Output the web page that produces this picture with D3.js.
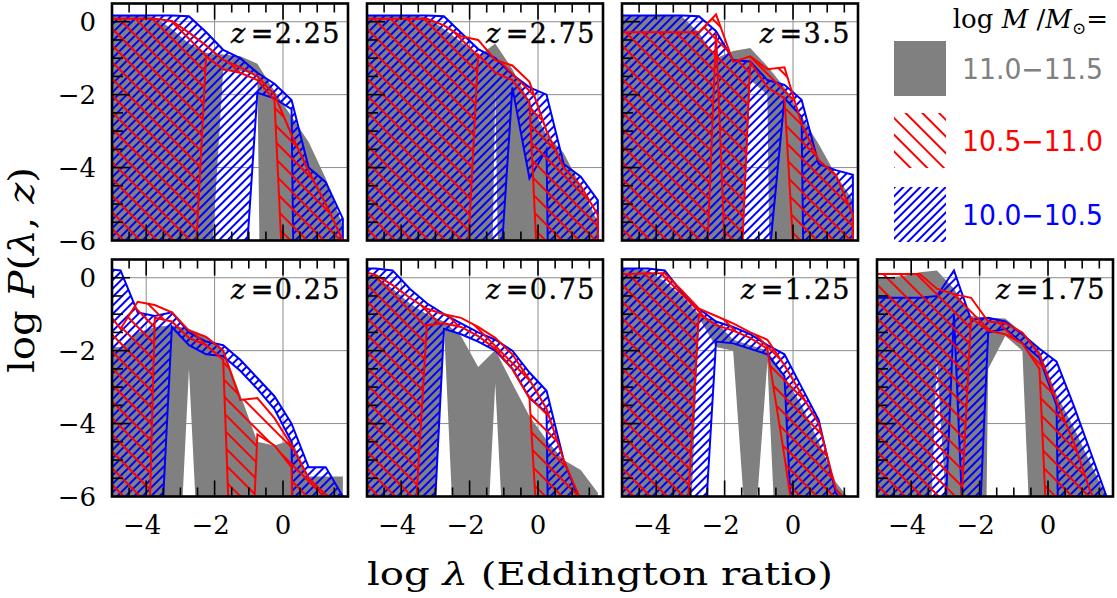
<!DOCTYPE html>
<html>
<head>
<meta charset="utf-8">
<script src="https://cdn.jsdelivr.net/npm/d3@7"></script>
<style>
  body { margin: 0; background: #fff; }
  svg { display: block; }
  text { font-family: 'DejaVu Serif', serif; fill: #000; }
</style>
</head>
<body>
<svg id="chart" width="1117" height="598"></svg>
<script>
// bin centres in log lambda
const xs = [-5.25, -4.75, -4.25, -3.75, -3.25, -2.75, -2.25, -1.75, -1.25, -0.75, -0.25, 0.25, 0.75, 1.25, 1.75]

// upper / lower edge of log P for each mass bin, big negatives = empty bin (log 0)
// z = 2.25
const gray_hi_225 = [0.17, 0.17, 0.17, 0.12, -0.2, -0.6, -0.85, -0.9, -0.95, -1.15, -1.9, -2.6, -3.3, -4.3, -5.6]
const gray_lo_225 = [-40, -40, -40, -40, -40, -40, -9, -1.35, -1.35, -1.45, -40, -40, -40, -40, -40]
const red_hi_225 = [0.08, 0.08, 0.08, 0.08, 0.02, -0.3, -0.65, -1.05, -1.25, -1.5, -2.0, -3.1, -4.1, -5.0, -6.0]
const red_lo_225 = [-40, -40, -40, -40, -40, -10, -0.95, -1.3, -1.4, -1.6, -2.15, -12, -40, -40, -40]
const blue_hi_225 = [0.17, 0.17, 0.17, 0.17, 0.17, 0.15, -0.28, -0.77, -1.0, -1.4, -1.7, -2.15, -4.0, -4.4, -5.4]
const blue_lo_225 = [-40, -40, -40, -40, -40, -40, -40, -40, -9, -1.95, -2.1, -2.4, -40, -40, -40]

// z = 2.75
const gray_hi_275 = [0.17, 0.17, 0.17, 0.17, 0.12, -0.2, -0.55, -0.95, -0.6, -1.3, -2.2, -3.1, -3.6, -4.5, -5.5]
const gray_lo_275 = [-40, -40, -40, -40, -40, -40, -40, -30, -1.9, -30, -40, -40, -40, -40, -40]
const red_hi_275 = [0.08, 0.08, 0.08, 0.08, 0.08, -0.1, -0.4, -0.5, -1.05, -1.2, -1.65, -3.0, -4.0, -4.5, -5.3]
const red_lo_275 = [-40, -40, -40, -40, -40, -40, -10, -0.9, -1.4, -1.6, -2.2, -12, -40, -40, -40]
const blue_hi_275 = [0.17, 0.17, 0.17, 0.17, 0.17, 0.15, -0.3, -0.75, -1.0, -1.45, -1.8, -2.0, -3.9, -4.25, -4.9]
const blue_lo_275 = [-40, -40, -40, -40, -40, -40, -40, -40, -9, -1.8, -4.3, -3.5, -40, -40, -40]

// z = 3.5
const gray_hi_35 = [0.17, 0.17, 0.17, 0.17, 0.15, -0.3, -1.0, -0.8, -0.72, -1.22, -1.8, -2.6, -3.35, -4.2, -4.9]
const gray_lo_35 = [-40, -40, -40, -40, -40, -40, -40, -12, -1.6, -2.0, -40, -40, -40, -40, -40]
const red_hi_35 = [-0.29, -0.29, -0.29, -0.29, -0.29, -0.29, 0.2, -1.1, -0.95, -1.3, -1.25, -2.8, -3.8, -4.2, -5.3]
const red_lo_35 = [-40, -40, -40, -40, -40, -12, -0.3, -12, -1.1, -1.8, -2.1, -10, -40, -40, -40]
const blue_hi_35 = [0.17, 0.17, 0.17, 0.17, 0.17, 0.15, -0.26, -1.05, -1.09, -1.6, -1.73, -2.14, -3.9, -4.07, -4.2]
const blue_lo_35 = [-40, -40, -40, -40, -40, -40, -40, -40, -40, -7, -2.1, -2.6, -40, -40, -40]

// z = 0.25
const gray_hi_025 = [-1.9, -1.9, -1.5, -1.35, -1.3, -1.4, -1.6, -1.95, -3.2, -4.5, -4.6, -4.45, -5.45, -5.45, -5.45]
const gray_lo_025 = [-40, -40, -40, -40, -12, -2.5, -12, -40, -40, -40, -40, -40, -40, -40, -40]
const red_hi_025 = [-0.8, -1.4, -0.66, -0.75, -0.95, -1.45, -1.62, -2.0, -3.35, -3.3, -3.85, -4.6, -5.5, -5.95, -6.2]
const red_lo_025 = [-40, -40, -19, -1.1, -1.2, -1.65, -1.85, -2.25, -15, -4.3, -4.6, -5.2, -40, -40, -40]
const blue_hi_025 = [0.25, 0.2, -0.95, -1.05, -0.95, -1.5, -1.75, -1.85, -2.25, -2.75, -3.25, -4.0, -5.2, -5.2, -6.0]
const blue_lo_025 = [-40, -40, -40, -10.6, -1.35, -1.85, -2.1, -2.15, -2.55, -3.05, -3.6, -4.5, -40, -40, -40]

// z = 0.75
const gray_hi_075 = [0.15, 0.05, -0.3, -0.7, -1.0, -1.2, -1.6, -2.45, -1.98, -2.9, -3.8, -4.45, -5.0, -5.27, -5.9]
const gray_lo_075 = [-40, -40, -40, -40, -10.7, -1.3, -11.5, -12, -2.9, -12, -40, -40, -40, -40, -40]
const red_hi_075 = [0.2, 0.08, -0.2, -0.55, -0.85, -1.0, -1.1, -1.35, -1.65, -2.1, -2.8, -3.6, -5.0, -6.1, -6.5]
const red_lo_075 = [-40, -40, -40, -9.1, -1.3, -1.25, -1.35, -1.6, -1.95, -2.5, -3.3, -11.2, -40, -40, -40]
const blue_hi_075 = [0.25, 0.25, 0.2, -0.3, -0.7, -1.0, -1.25, -1.5, -1.7, -2.0, -2.6, -3.1, -5.0, -6.2, -7.0]
const blue_lo_075 = [-40, -40, -40, -40, -10.6, -1.4, -1.55, -1.75, -2.0, -2.5, -3.3, -3.7, -40, -40, -40]

// z = 1.25
const gray_hi_125 = [0.25, 0.25, 0.2, -0.1, -0.5, -1.0, -1.2, -1.7, -1.85, -2.0, -2.7, -3.5, -4.5, -5.6, -6.2]
const gray_lo_125 = [-40, -40, -40, -40, -12.8, -1.1, -1.9, -2.0, -8.67, -2.3, -12.6, -40, -40, -40, -40]
const red_hi_125 = [0.1, 0.1, 0.12, 0.12, -0.35, -0.85, -1.05, -1.25, -1.5, -1.7, -2.4, -3.2, -4.0, -5.8, -6.3]
const red_lo_125 = [-40, -40, -40, -40, -9.1, -1.0, -1.3, -1.45, -1.65, -1.95, -4.9, -8.1, -40, -40, -40]
const blue_hi_125 = [0.25, 0.25, 0.25, 0.2, -0.4, -0.85, -1.2, -1.35, -1.55, -1.85, -2.1, -3.0, -3.9, -5.9, -6.5]
const blue_lo_125 = [-40, -40, -40, -40, -40, -9.6, -1.75, -1.8, -1.95, -2.1, -2.7, -12.4, -40, -40, -40]

// z = 1.75
const gray_hi_175 = [0.0, 0.0, 0.05, 0.15, 0.2, -0.3, -1.05, -1.1, -1.12, -1.5, -2.0, -3.2, -4.1, -5.1, -6.1]
const gray_lo_175 = [-40, -40, -40, -14.9, -2.2, -9.8, -40, -2.5, -1.6, -2.0, -13.1, -40, -40, -40, -40]
const red_hi_175 = [0.1, 0.1, 0.1, 0.1, -0.3, -0.45, -0.55, -1.2, -1.25, -1.5, -2.1, -3.4, -4.5, -5.9, -6.5]
const red_lo_175 = [-40, -40, -40, -40, -40, -10.2, -1.1, -1.45, -1.55, -1.8, -2.5, -12.8, -40, -40, -40]
const blue_hi_175 = [-0.55, -0.55, -0.55, -0.55, -0.5, 0.2, -1.15, -1.1, -1.2, -1.55, -1.95, -2.3, -3.5, -4.8, -6.1]
const blue_lo_175 = [-40, -40, -40, -40, -12, -1.0, -12, -1.5, -1.4, -1.8, -2.2, -3.5, -40, -40, -40]

const xTicks = [-4, -2, 0]
const yTicks = [0, -2, -4, -6]
const legendLabels = ['11.0\u221211.5', '10.5\u221211.0', '10.0\u221210.5']

const panels = [
  { z: '2.25', col: 0, row: 0, gray: [gray_hi_225, gray_lo_225], red: [red_hi_225, red_lo_225], blue: [blue_hi_225, blue_lo_225] },
  { z: '2.75', col: 1, row: 0, gray: [gray_hi_275, gray_lo_275], red: [red_hi_275, red_lo_275], blue: [blue_hi_275, blue_lo_275] },
  { z: '3.5', col: 2, row: 0, gray: [gray_hi_35, gray_lo_35], red: [red_hi_35, red_lo_35], blue: [blue_hi_35, blue_lo_35] },
  { z: '0.25', col: 0, row: 1, gray: [gray_hi_025, gray_lo_025], red: [red_hi_025, red_lo_025], blue: [blue_hi_025, blue_lo_025] },
  { z: '0.75', col: 1, row: 1, gray: [gray_hi_075, gray_lo_075], red: [red_hi_075, red_lo_075], blue: [blue_hi_075, blue_lo_075] },
  { z: '1.25', col: 2, row: 1, gray: [gray_hi_125, gray_lo_125], red: [red_hi_125, red_lo_125], blue: [blue_hi_125, blue_lo_125] },
  { z: '1.75', col: 3, row: 1, gray: [gray_hi_175, gray_lo_175], red: [red_hi_175, red_lo_175], blue: [blue_hi_175, blue_lo_175] }
]

const GRAY = '#808080'
const RED = '#ff0000'
const BLUE = '#0000ff'

const W = 236
const H = 237
const colX = [112, 367, 622, 877]
const rowY = [3.5, 259.5]

const svg = d3.select('#chart')

// hatch patterns
let defs = svg.append('defs')
defs.append('pattern')
    .attr('id', 'hatch-red')
    .attr('patternUnits', 'userSpaceOnUse')
    .attr('width', 11.8).attr('height', 11.8)
    .attr('patternTransform', 'rotate(-45)')
  .append('line')
    .attr('x1', 5.9).attr('x2', 5.9).attr('y1', -1).attr('y2', 13)
    .attr('stroke', RED).attr('stroke-width', 2)

defs.append('pattern')
    .attr('id', 'hatch-blue')
    .attr('patternUnits', 'userSpaceOnUse')
    .attr('width', 6).attr('height', 6)
    .attr('patternTransform', 'rotate(45)')
  .append('line')
    .attr('x1', 3).attr('x2', 3).attr('y1', -1).attr('y2', 7)
    .attr('stroke', BLUE).attr('stroke-width', 2)

const x = d3.scaleLinear().domain([-5, 1.9]).range([0, W])
const y = d3.scaleLinear().domain([-6, 0.5]).range([H, 0])

const area = d3.area()
    .x(d => x(d.x))
    .y0(d => y(Math.max(d.lo, -60)))
    .y1(d => y(d.hi))

panels.forEach((p, i) => {
  let g = svg.append('g')
      .attr('transform', `translate(${colX[p.col]},${rowY[p.row]})`)

  defs.append('clipPath').attr('id', `clip-${i}`)
    .append('rect').attr('width', W).attr('height', H)

  // grid
  g.selectAll('.grid-x').data(xTicks).enter().append('line')
    .attr('x1', d => x(d)).attr('x2', d => x(d))
    .attr('y1', 0).attr('y2', H)
    .attr('stroke', '#8c8c8c').attr('stroke-width', 1)
  g.selectAll('.grid-y').data(yTicks.slice(0, 3)).enter().append('line')
    .attr('x1', 0).attr('x2', W)
    .attr('y1', d => y(d)).attr('y2', d => y(d))
    .attr('stroke', '#8c8c8c').attr('stroke-width', 1)

  let plot = g.append('g').attr('clip-path', `url(#clip-${i})`)

  let series = [
    { band: p.gray, fill: GRAY, stroke: 'none' },
    { band: p.blue, fill: 'url(#hatch-blue)', stroke: BLUE },
    { band: p.red, fill: 'url(#hatch-red)', stroke: RED }
  ]
  series.forEach(s => {
    let rows = xs.map((v, k) => ({ x: v, hi: s.band[0][k], lo: s.band[1][k] }))
    plot.append('path')
      .datum(rows)
      .attr('d', area)
      .attr('fill', s.fill)
      .attr('stroke', s.stroke)
      .attr('stroke-width', 2)
      .attr('stroke-linejoin', 'miter')
  })

  // ticks, inward, every 0.5
  let xt = d3.range(-4.5, 1.9, 0.5)
  let tickLen = d => (Math.abs(d % 2) < 1e-6 ? 16 : 9)
  g.selectAll('.tick-top').data(xt).enter().append('line')
    .attr('x1', d => x(d)).attr('x2', d => x(d))
    .attr('y1', 0).attr('y2', d => tickLen(d))
    .attr('stroke', '#000').attr('stroke-width', 1.6)
  g.selectAll('.tick-bot').data(xt).enter().append('line')
    .attr('x1', d => x(d)).attr('x2', d => x(d))
    .attr('y1', H).attr('y2', d => H - tickLen(d))
    .attr('stroke', '#000').attr('stroke-width', 1.6)
  let yt = d3.range(-5.5, 0.5, 0.5)
  g.selectAll('.tick-left').data(yt).enter().append('line')
    .attr('x1', 0).attr('x2', d => tickLen(d) + 2)
    .attr('y1', d => y(d)).attr('y2', d => y(d))
    .attr('stroke', '#000').attr('stroke-width', 1.6)

  g.append('rect')
    .attr('width', W).attr('height', H)
    .attr('fill', 'none')
    .attr('stroke', '#000').attr('stroke-width', 2.6)

  // redshift label
  let lab = g.append('text')
      .attr('x', W - 7).attr('y', 39)
      .attr('text-anchor', 'end')
      .style('font-size', '27px')
      .style('letter-spacing', '1.5px')
      .attr('stroke', '#000').attr('stroke-width', 0.4)
  lab.append('tspan').style('font-style', 'italic').text('z')
  lab.append('tspan').attr('dx', 4).text('=' + p.z)

  if (p.col === 0) {
    g.selectAll('.ylab').data(yTicks).enter().append('text')
      .attr('x', -16).attr('y', d => y(d))
      .attr('text-anchor', 'end')
      .attr('dominant-baseline', 'central')
      .style('font-size', '26px')
      .text(d => (d < 0 ? '\u2212' + Math.abs(d) : d))
  }
  if (p.row === 1) {
    g.selectAll('.xlab').data(xTicks).enter().append('text')
      .attr('x', d => x(d) - (d < 0 ? 4 : 0)).attr('y', H + 37)
      .attr('text-anchor', 'middle')
      .style('font-size', '26px')
      .text(d => (d < 0 ? '\u2212' + Math.abs(d) : d))
  }
})

// legend in the empty top-right slot
let legend = svg.append('g')
let title = legend.append('text')
    .attr('x', 1108).attr('y', 28)
    .attr('text-anchor', 'end')
    .style('font-size', '26px')
title.append('tspan').text('log ')
title.append('tspan').style('font-style', 'italic').text('M')
title.append('tspan').text(' /')
title.append('tspan').style('font-style', 'italic').text('M')
title.append('tspan').attr('dy', 6).style('font-size', '17px').text('\u2299')
title.append('tspan').attr('dy', -6).text('=')

const swatchFill = [GRAY, 'url(#hatch-red)', 'url(#hatch-blue)']
const swatchText = [GRAY, RED, BLUE]
const swatchY = [41, 113, 187]
legendLabels.forEach((t, k) => {
  legend.append('rect')
    .attr('x', 894).attr('y', swatchY[k])
    .attr('width', 52).attr('height', 55)
    .attr('fill', swatchFill[k])
  legend.append('text')
    .attr('x', 962).attr('y', swatchY[k] + 38)
    .attr('textLength', 141).attr('lengthAdjust', 'spacingAndGlyphs')
    .style('font-family', "'DejaVu Sans', sans-serif")
    .style('font-size', '28px')
    .style('fill', swatchText[k])
    .text(t)
})

// axis titles
let xTitle = svg.append('text')
    .attr('x', 600).attr('y', 585)
    .attr('text-anchor', 'middle')
    .attr('textLength', 466).attr('lengthAdjust', 'spacingAndGlyphs')
    .style('font-size', '32px')
xTitle.append('tspan').text('log ')
xTitle.append('tspan').style('font-style', 'italic').text('\u03bb')
xTitle.append('tspan').text('  (Eddington ratio)')

let yTitle = svg.append('text')
    .attr('transform', 'translate(34,270) rotate(-90)')
    .attr('text-anchor', 'middle')
    .attr('textLength', 206).attr('lengthAdjust', 'spacingAndGlyphs')
    .style('font-size', '35px')
yTitle.append('tspan').text('log ')
yTitle.append('tspan').style('font-style', 'italic').text('P')
yTitle.append('tspan').text('(')
yTitle.append('tspan').style('font-style', 'italic').text('\u03bb')
yTitle.append('tspan').text(',  ')
yTitle.append('tspan').style('font-style', 'italic').text('z')
yTitle.append('tspan').text(')')
</script>
</body>
</html>
